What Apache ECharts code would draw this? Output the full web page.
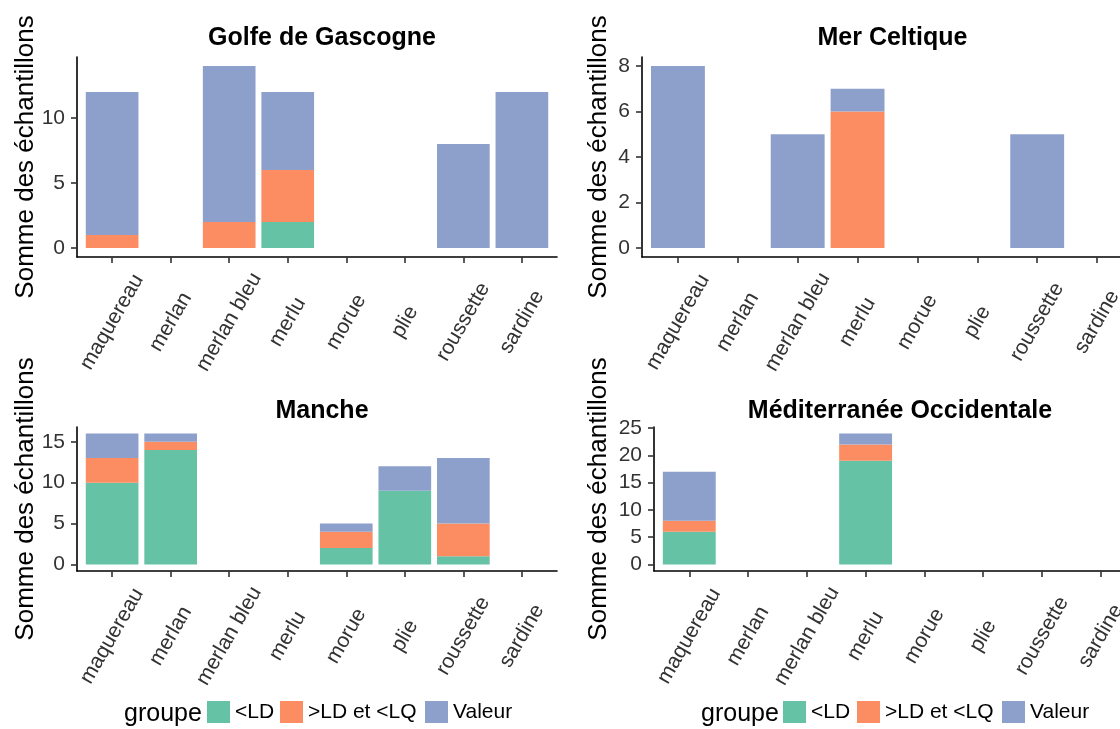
<!DOCTYPE html>
<html>
<head>
<meta charset="utf-8">
<script src="https://cdn.jsdelivr.net/npm/echarts@6/dist/echarts.min.js"></script>
<style>
html,body{margin:0;padding:0;background:#fff;}
#chart{width:1120px;height:729px;}
</style>
</head>
<body>
<div id="chart"></div>
<script>
// ---- data ----
const categories = ['maquereau','merlan','merlan bleu','merlu','morue','plie','roussette','sardine'];
const groups = ['<LD','>LD et <LQ','Valeur'];
const panelTitles = ['Golfe de Gascogne','Mer Celtique','Manche','Méditerranée Occidentale'];
const yAxisTitle = 'Somme des échantillons';
const legendTitle = 'groupe';

const golfeLD     = [0, 0, 0, 2, 0, 0, 0, 0];
const golfeLDLQ   = [1, 0, 2, 4, 0, 0, 0, 0];
const golfeValeur = [11, 0, 12, 6, 0, 0, 8, 12];

const celtLD      = [0, 0, 0, 0, 0, 0, 0, 0];
const celtLDLQ    = [0, 0, 0, 6, 0, 0, 0, 0];
const celtValeur  = [8, 0, 5, 1, 0, 0, 5, 0];

const mancheLD     = [10, 14, 0, 0, 2, 9, 1, 0];
const mancheLDLQ   = [3, 1, 0, 0, 2, 0, 4, 0];
const mancheValeur = [3, 1, 0, 0, 1, 3, 8, 0];

const medLD     = [6, 0, 0, 19, 0, 0, 0, 0];
const medLDLQ   = [2, 0, 0, 3, 0, 0, 0, 0];
const medValeur = [9, 0, 0, 2, 0, 0, 0, 0];

const golfeTicks  = [0, 5, 10];
const celtTicks   = [0, 2, 4, 6, 8];
const mancheTicks = [0, 5, 10, 15];
const medTicks    = [0, 5, 10, 15, 20, 25];

// ---- layout & style ----
const panelData = [
  [golfeLD, golfeLDLQ, golfeValeur],
  [celtLD, celtLDLQ, celtValeur],
  [mancheLD, mancheLDLQ, mancheValeur],
  [medLD, medLDLQ, medValeur]
];
const panelTicks = [golfeTicks, celtTicks, mancheTicks, medTicks];
const layout = [
  {left: 77,  width: 480, top: 57,  height: 200, nameGap: 38, titleTop: 20},
  {left: 642, width: 491, top: 57,  height: 200, nameGap: 30, titleTop: 20},
  {left: 77,  width: 480, top: 427, height: 144, nameGap: 38, titleTop: 393},
  {left: 654, width: 482, top: 427, height: 144, nameGap: 42, titleTop: 393}
];
const colors = ['#66C2A5', '#FC8D62', '#8DA0CB'];
const FONT = "'Liberation Sans', Arial, sans-serif";
const axisTextColor = '#333333';

const grids = [], xAxes = [], yAxes = [], series = [], titles = [], legends = [];

panelData.forEach((groupsData, p) => {
  const L = layout[p];
  const totals = categories.map((c, i) => groupsData.reduce((s, arr) => s + arr[i], 0));
  const maxT = Math.max(...totals);
  const ymin = -0.05 * maxT, ymax = 1.05 * maxT;
  const unit = L.width / 8.2;

  // outer panel grid (axis lines + y scale)
  grids.push({left: L.left, top: L.top, width: L.width, height: L.height, outerBoundsMode: 'none', containLabel: false});
  // inner grid for categories (ggplot discrete expansion of 0.6)
  grids.push({left: L.left + 0.1 * unit, top: L.top, width: 8 * unit, height: L.height, outerBoundsMode: 'none', containLabel: false});

  xAxes.push({
    gridIndex: 2 * p, type: 'value', min: 0, max: 1,
    axisLine: {show: true, onZero: false, lineStyle: {color: '#000', width: 1.6}},
    axisTick: {show: false}, axisLabel: {show: false}, splitLine: {show: false}
  });
  xAxes.push({
    gridIndex: 2 * p + 1, type: 'category', data: categories,
    axisLine: {show: false, onZero: false},
    axisTick: {show: true, alignWithLabel: true, length: 6, lineStyle: {color: '#333', width: 1.6}},
    axisLabel: {
      interval: 0, rotate: 60, align: 'center', verticalAlign: 'middle', margin: 65,
      fontSize: 21, color: axisTextColor, fontFamily: FONT, hideOverlap: false
    },
    splitLine: {show: false}
  });
  yAxes.push({
    gridIndex: 2 * p, type: 'value', min: ymin, max: ymax,
    name: yAxisTitle, nameLocation: 'middle', nameRotate: 90, nameGap: L.nameGap, nameMoveOverlap: false,
    nameTextStyle: {fontSize: 26, color: '#000', fontFamily: FONT},
    axisLine: {show: true, lineStyle: {color: '#000', width: 1.6}},
    axisTick: {show: true, length: 6, customValues: panelTicks[p], lineStyle: {color: '#333', width: 1.6}},
    axisLabel: {show: true, customValues: panelTicks[p], margin: 12, fontSize: 21, color: axisTextColor, fontFamily: FONT},
    splitLine: {show: false}
  });
  yAxes.push({gridIndex: 2 * p + 1, type: 'value', min: ymin, max: ymax, show: false, splitLine: {show: false}});

  groups.forEach((g, k) => {
    series.push({
      type: 'bar', name: g, xAxisIndex: 2 * p + 1, yAxisIndex: 2 * p + 1,
      stack: 'panel' + p, barWidth: '90%', data: groupsData[k],
      itemStyle: {color: colors[k]}, emphasis: {disabled: true}
    });
  });

  titles.push({
    text: panelTitles[p], left: L.left + L.width / 2, top: L.titleTop, textAlign: 'center',
    textStyle: {fontSize: 25, fontWeight: 'bold', color: '#000', fontFamily: FONT, lineHeight: 26}
  });
});

// legends (one per bottom panel column)
const legendBlocks = [
  {titleLeft: 119, keys: [207, 280, 425]},
  {titleLeft: 696, keys: [783, 857, 1002]}
];
legendBlocks.forEach(b => {
  titles.push({
    text: legendTitle, left: b.titleLeft, top: 696,
    textStyle: {fontSize: 25, fontWeight: 'normal', color: '#000', fontFamily: FONT, lineHeight: 26}
  });
  groups.forEach((g, k) => {
    legends.push({
      data: [{name: g, icon: 'rect'}], left: b.keys[k], top: 701, padding: 0,
      itemWidth: 23, itemHeight: 22, selectedMode: false,
      textStyle: {fontSize: 21, color: '#000', fontFamily: FONT}
    });
  });
});

const chart = echarts.init(document.getElementById('chart'), null, {renderer: 'canvas'});
chart.setOption({
  backgroundColor: '#fff',
  animation: false,
  textStyle: {fontFamily: FONT},
  title: titles,
  legend: legends,
  grid: grids,
  xAxis: xAxes,
  yAxis: yAxes,
  series: series
});
</script>
</body>
</html>
